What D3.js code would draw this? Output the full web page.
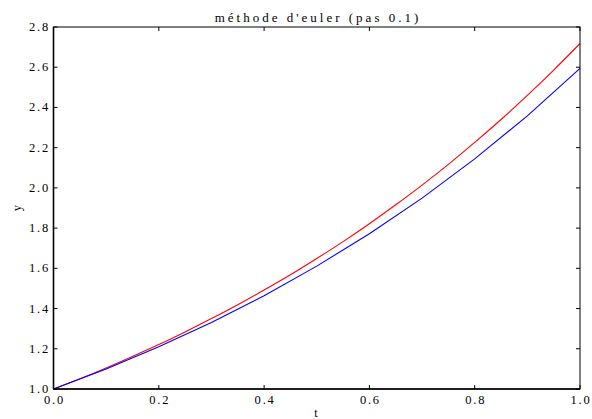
<!DOCTYPE html>
<html><head><meta charset="utf-8">
<script src="https://cdn.jsdelivr.net/npm/d3@7"></script>
<style>body{margin:0;background:#fff}svg{display:block}text{font-family:"Liberation Serif","DejaVu Serif",serif;fill:#000}</style>
</head><body><svg id="c" width="592" height="419"></svg>
<script>
const tEuler = [0,0.1,0.2,0.3,0.4,0.5,0.6,0.7,0.8,0.9,1.0];
const yEuler = [1.000,1.100,1.210,1.331,1.464,1.611,1.772,1.949,2.144,2.358,2.594];
const tExact = [0,0.05,0.1,0.15,0.2,0.25,0.3,0.35,0.4,0.45,0.5,0.55,0.6,0.65,0.7,0.75,0.8,0.85,0.9,0.95,1.0];
const yExact = [1.000,1.051,1.105,1.162,1.221,1.284,1.350,1.419,1.492,1.568,1.649,1.733,1.822,1.916,2.014,2.117,2.226,2.340,2.460,2.586,2.718];
const xTicks = [0,0.2,0.4,0.6,0.8,1.0];
const yTicks = [1.0,1.2,1.4,1.6,1.8,2.0,2.2,2.4,2.6,2.8];
const title = "méthode d'euler (pas 0.1)";

const svg = d3.select("#c");
const L=53.5,R=580,T=27,B=389;
const x = d3.scaleLinear().domain([0,1]).range([L,R]);
const y = d3.scaleLinear().domain([1,2.8]).range([B,T]);

svg.append("path").datum(tExact.map((t,i)=>[t,yExact[i]]))
  .attr("d",d3.line().x(d=>x(d[0])).y(d=>y(d[1])).curve(d3.curveMonotoneX))
  .attr("fill","none").attr("stroke","#ff0000").attr("stroke-width",1.1);
svg.append("path").datum(tEuler.map((t,i)=>[t,yEuler[i]]))
  .attr("d",d3.line().x(d=>x(d[0])).y(d=>y(d[1])))
  .attr("fill","none").attr("stroke","#0000ff").attr("stroke-width",1.1);

const fmt = d3.format(".1f");
const tick = 4;
const ax = svg.append("g").attr("stroke","#000").attr("stroke-width",1);
xTicks.forEach(v=>{
  ax.append("line").attr("x1",x(v)).attr("x2",x(v)).attr("y1",B).attr("y2",B-tick);
  ax.append("line").attr("x1",x(v)).attr("x2",x(v)).attr("y1",T).attr("y2",T+tick);
});
yTicks.forEach(v=>{
  ax.append("line").attr("x1",L).attr("x2",L+tick).attr("y1",y(v)).attr("y2",y(v));
  ax.append("line").attr("x1",R).attr("x2",R-tick).attr("y1",y(v)).attr("y2",y(v));
});
ax.append("rect").attr("x",L).attr("y",T).attr("width",R-L).attr("height",B-T).attr("fill","none");
ax.append("line").attr("x1",L).attr("x2",L).attr("y1",T).attr("y2",B).attr("stroke-width",1.6);
ax.append("line").attr("x1",L).attr("x2",R).attr("y1",B).attr("y2",B).attr("stroke-width",1.6);

svg.selectAll(".xl").data(xTicks).enter().append("text").attr("x",d=>x(d)+1).attr("y",404)
  .attr("text-anchor","middle").attr("font-size",12.5).attr("letter-spacing",1.8).text(fmt);
svg.selectAll(".yl").data(yTicks).enter().append("text").attr("x",50).attr("y",d=>y(d)+4)
  .attr("text-anchor","end").attr("font-size",12.5).attr("letter-spacing",1.8).text(fmt);

svg.append("text").attr("x",318).attr("y",21.5).attr("text-anchor","middle").attr("font-size",13)
  .attr("letter-spacing",3).text(title);
svg.append("text").attr("transform","translate(21,208) rotate(-90)").attr("text-anchor","middle")
  .attr("font-size",12.5).text("y");
svg.append("text").attr("x",316).attr("y",417).attr("text-anchor","middle").attr("font-size",12).text("t");
</script></body></html>
